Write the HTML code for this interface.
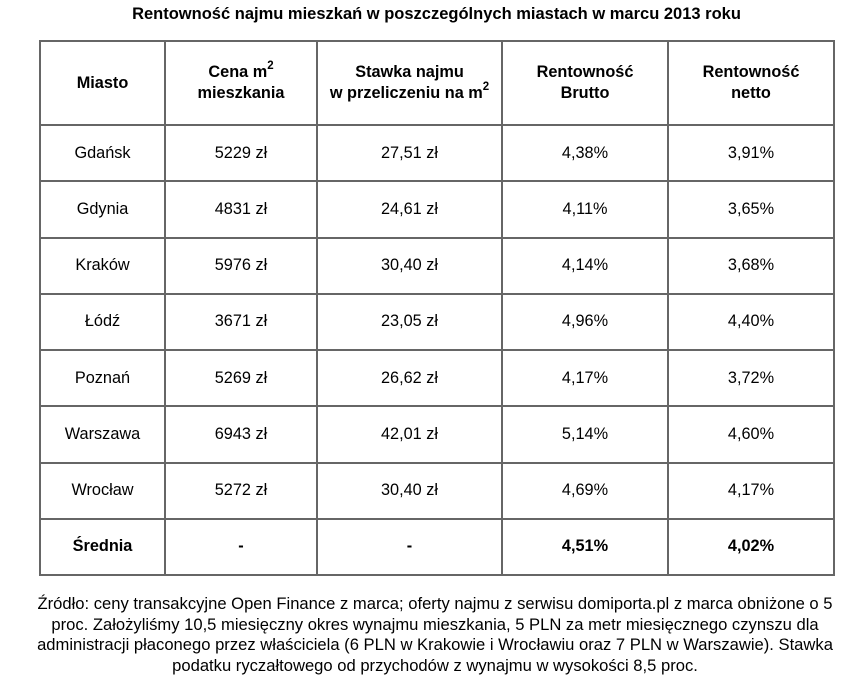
<!DOCTYPE html>
<html><head><meta charset="utf-8"><style>
body{margin:0;background:#fff;width:863px;height:690px;overflow:hidden;font-family:"Liberation Sans",Arial,sans-serif;color:#000;position:relative}
#title{position:absolute;top:5px;left:0;width:873px;text-align:center;font-weight:bold;font-size:16.5px}
table{position:absolute;left:39px;top:40px;border-collapse:collapse;table-layout:fixed}
td{border:2px solid #666;text-align:center;font-size:16.3px;padding:0;height:54.25px}
tr.h td{height:82px;font-weight:bold;line-height:21px}
tr.avg td{font-weight:bold}
sup{font-size:11.5px;line-height:0;position:relative;top:-2px}
#note{position:absolute;top:594px;left:0px;width:870px;text-align:center;font-size:16.6px;line-height:20.5px}
</style></head><body>
<div id="title">Rentowność najmu mieszkań w poszczególnych miastach w marcu 2013 roku</div>
<table>
<colgroup><col style="width:125px"><col style="width:152px"><col style="width:185px"><col style="width:166px"><col style="width:166px"></colgroup>
<tr class="h"><td>Miasto</td><td>Cena m<sup>2</sup><br>mieszkania</td><td>Stawka najmu<br>w przeliczeniu na m<sup>2</sup></td><td>Rentowność<br>Brutto</td><td>Rentowność<br>netto</td></tr>
<tr><td>Gdańsk</td><td>5229 zł</td><td>27,51 zł</td><td>4,38%</td><td>3,91%</td></tr>
<tr><td>Gdynia</td><td>4831 zł</td><td>24,61 zł</td><td>4,11%</td><td>3,65%</td></tr>
<tr><td>Kraków</td><td>5976 zł</td><td>30,40 zł</td><td>4,14%</td><td>3,68%</td></tr>
<tr><td>Łódź</td><td>3671 zł</td><td>23,05 zł</td><td>4,96%</td><td>4,40%</td></tr>
<tr><td>Poznań</td><td>5269 zł</td><td>26,62 zł</td><td>4,17%</td><td>3,72%</td></tr>
<tr><td>Warszawa</td><td>6943 zł</td><td>42,01 zł</td><td>5,14%</td><td>4,60%</td></tr>
<tr><td>Wrocław</td><td>5272 zł</td><td>30,40 zł</td><td>4,69%</td><td>4,17%</td></tr>
<tr class="avg"><td>Średnia</td><td>-</td><td>-</td><td>4,51%</td><td>4,02%</td></tr>
</table>
<div id="note">Źródło: ceny transakcyjne Open Finance z marca; oferty najmu z serwisu domiporta.pl z marca obniżone o 5<br>proc. Założyliśmy 10,5 miesięczny okres wynajmu mieszkania, 5 PLN za metr miesięcznego czynszu dla<br>administracji płaconego przez właściciela (6 PLN w Krakowie i Wrocławiu oraz 7 PLN w Warszawie). Stawka<br>podatku ryczałtowego od przychodów z wynajmu w wysokości 8,5 proc.</div>
</body></html>
